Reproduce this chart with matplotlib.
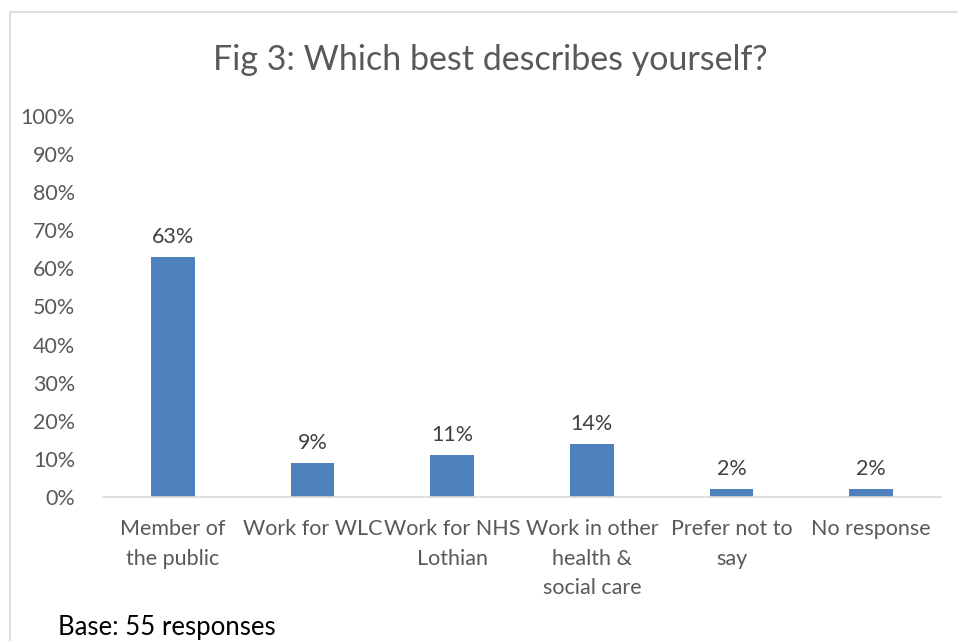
import matplotlib.pyplot as plt
from matplotlib.patches import Rectangle

# Survey responses: which best describes yourself
categories = ['Member of\nthe public', 'Work for WLC', 'Work for NHS\nLothian',
              'Work in other\nhealth &\nsocial care', 'Prefer not to\nsay', 'No response']
percent = [63, 9, 11, 14, 2, 2]
y_ticks = list(range(0, 101, 10))

plt.rcParams['font.family'] = ['Lato', 'DejaVu Sans']
text_color = '#595959'
bar_color = '#4F81BD'

fig = plt.figure(figsize=(9.58, 6.41), dpi=100)
ax = fig.add_axes([103 / 958, 1 - 497 / 641, 838 / 958, 381 / 641])

x = list(range(len(categories)))
bars = ax.bar(x, percent, width=0.315, color=bar_color, zorder=2)

# value labels above each bar
for xi, v in zip(x, percent):
    ax.text(xi, v + 2.6, f'{v}%', ha='center', va='bottom', fontsize=15.5, color='#404040')

ax.set_xlim(-0.5, len(categories) - 0.5)
ax.set_ylim(0, 100)
ax.set_yticks(y_ticks)
ax.set_yticklabels([f'{t}%' for t in y_ticks])
ax.set_xticks(x)
ax.set_xticklabels(categories, linespacing=1.58)
ax.tick_params(axis='both', length=0, labelsize=15.5, colors=text_color)
ax.tick_params(axis='y', pad=20)
ax.tick_params(axis='x', pad=16, labelsize=15.5)

for side in ['top', 'right', 'left']:
    ax.spines[side].set_visible(False)
ax.spines['bottom'].set_color('#D9D9D9')
ax.spines['bottom'].set_linewidth(1.2)

fig.text(490 / 958, 1 - 60 / 641, 'Fig 3: Which best describes yourself?',
         ha='center', va='center', fontsize=24.5, color=text_color)

fig.text(58 / 958, 1 - 628 / 641, 'Base: 55 responses', ha='left', va='center',
         fontsize=18.5, color='black')

# chart area border
fig.patches.append(Rectangle((10 / 958, -0.05), 1.0, 1 - 12 / 641 + 0.05,
                             transform=fig.transFigure, fill=False,
                             edgecolor='#D9D9D9', linewidth=1.2))

fig.savefig('out.png', dpi=100)
